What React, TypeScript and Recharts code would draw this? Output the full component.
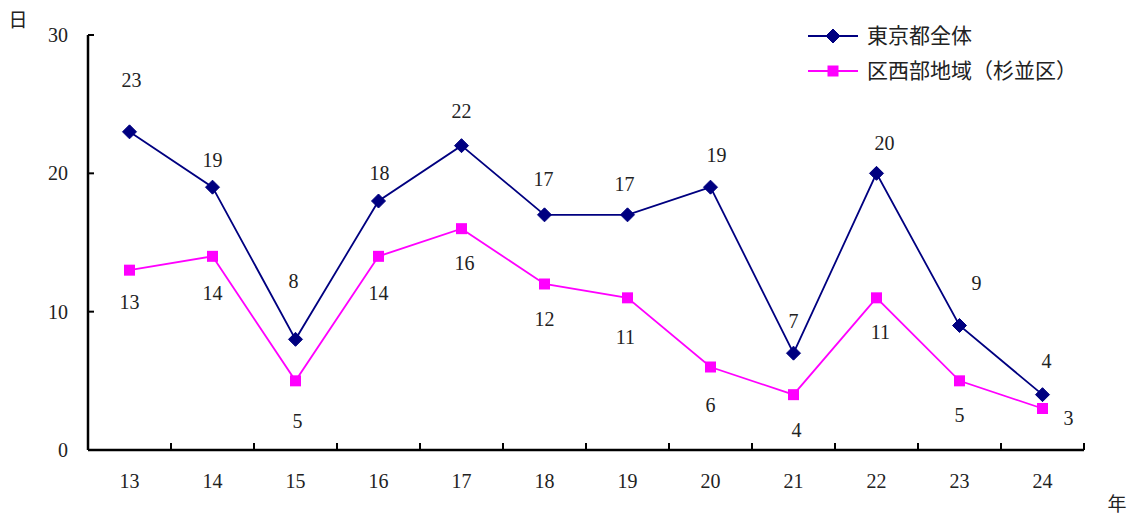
import React from "react";
import { LineChart, Line, XAxis, YAxis } from "recharts";

const years = ["13", "14", "15", "16", "17", "18", "19", "20", "21", "22", "23", "24"];
const tokyoAll = [23, 19, 8, 18, 22, 17, 17, 19, 7, 20, 9, 4];
const suginami = [13, 14, 5, 14, 16, 12, 11, 6, 4, 11, 5, 3];
const yTicks = [0, 10, 20, 30];
const seriesNames = ["東京都全体", "区西部地域（杉並区）"];

// label offsets (styling only)
const lab1 = [
  [2, -52], [0, -27], [-2, -58], [1, -28], [0, -35], [-1, -36],
  [-3, -31], [6, -32], [0, -32], [8, -30], [17, -43], [4, -34],
];
const lab2 = [
  [0, 32], [0, 37], [2, 40], [0, 37], [3, 34], [0, 35],
  [-2, 39], [0, 38], [3, 35], [4, 34], [0, 34], [26, 9],
];

const data = years.map((y, i) => ({ year: y, a: tokyoAll[i], b: suginami[i] }));

const FONT = "'Liberation Serif', 'DejaVu Serif', 'Noto Sans CJK JP', serif";
const NAVY = "#000080";
const MAG = "#FF00FF";
const BAND = 996 / 12;

const Diamond = (props: any) => {
  const { cx, cy } = props;
  if (cx == null || cy == null) return null;
  const r = 7;
  return <path d={`M${cx},${cy - r}L${cx + r},${cy}L${cx},${cy + r}L${cx - r},${cy}Z`} fill={NAVY} stroke={NAVY} />;
};
const Square = (props: any) => {
  const { cx, cy } = props;
  if (cx == null || cy == null) return null;
  const r = 5.5;
  return <rect x={cx - r} y={cy - r} width={2 * r} height={2 * r} fill={MAG} />;
};

const makeLabel = (offs: number[][]) => (props: any) => {
  const { x, y, value, index } = props;
  const [dx, dy] = offs[index] || [0, 0];
  return (
    <text x={x + dx} y={y + dy} textAnchor="middle" dominantBaseline="central" fontSize={20} fontFamily={FONT} fill="#222">
      {value}
    </text>
  );
};

const XTick = (props: any) => {
  const { x, payload } = props;
  const axisY = 450;
  return (
    <g>
      <line x1={x + BAND / 2} x2={x + BAND / 2} y1={axisY} y2={axisY - 7} stroke="#000" strokeWidth={2} />
      <text x={x} y={481} textAnchor="middle" dominantBaseline="central" fontSize={20} fontFamily={FONT} fill="#222">
        {payload.value}
      </text>
    </g>
  );
};

const YTick = (props: any) => {
  const { y, payload } = props;
  return (
    <g>
      <line x1={88} x2={94} y1={y} y2={y} stroke="#000" strokeWidth={2} />
      <text x={68} y={y} textAnchor="end" dominantBaseline="central" fontSize={20} fontFamily={FONT} fill="#222">
        {payload.value}
      </text>
    </g>
  );
};

const LegendBox = () => (
  <svg width={320} height={80} style={{ position: "absolute", left: 808, top: 24 }}>
    <line x1={0} x2={50} y1={12} y2={12} stroke={NAVY} strokeWidth={2} />
    <Diamond cx={25} cy={12} />
    <text x={59} y={12} dominantBaseline="central" fontSize={21} fontFamily={FONT} fill="#222">{seriesNames[0]}</text>
    <line x1={0} x2={50} y1={47} y2={47} stroke={MAG} strokeWidth={2} />
    <Square cx={25} cy={47} />
    <text x={59} y={47} dominantBaseline="central" fontSize={21} fontFamily={FONT} fill="#222">{seriesNames[1]}</text>
  </svg>
);

export default function App() {
  return (
    <div style={{ position: "absolute", left: 0, top: 0, width: 1133, height: 516, background: "#fff" }}>
      <LineChart width={1133} height={516} data={data} margin={{ top: 35, right: 49, bottom: 0, left: 0 }}>
        <XAxis
          dataKey="year"
          height={66}
          padding={{ left: BAND / 2, right: BAND / 2 }}
          axisLine={{ stroke: "#000", strokeWidth: 2.5 }}
          tickLine={false}
          tick={<XTick />}
          interval={0}
        />
        <YAxis
          width={88}
          domain={[0, 30]}
          ticks={yTicks}
          axisLine={{ stroke: "#000", strokeWidth: 2.5 }}
          tickLine={false}
          tick={<YTick />}
          interval={0}
        />
        <Line
          dataKey="a"
          name={seriesNames[0]}
          stroke={NAVY}
          strokeWidth={1.8}
          dot={<Diamond />}
          activeDot={false}
          isAnimationActive={false}
          label={makeLabel(lab1)}
        />
        <Line
          dataKey="b"
          name={seriesNames[1]}
          stroke={MAG}
          strokeWidth={1.8}
          dot={<Square />}
          activeDot={false}
          isAnimationActive={false}
          label={makeLabel(lab2)}
        />
        <text x={18} y={18} textAnchor="middle" dominantBaseline="central" fontSize={19} fontFamily="'Noto Sans CJK JP', serif" fill="#222">日</text>
        <text x={1117} y={502} textAnchor="middle" dominantBaseline="central" fontSize={19} fontFamily="'Noto Sans CJK JP', serif" fill="#222">年</text>
      </LineChart>
      <LegendBox />
    </div>
  );
}
